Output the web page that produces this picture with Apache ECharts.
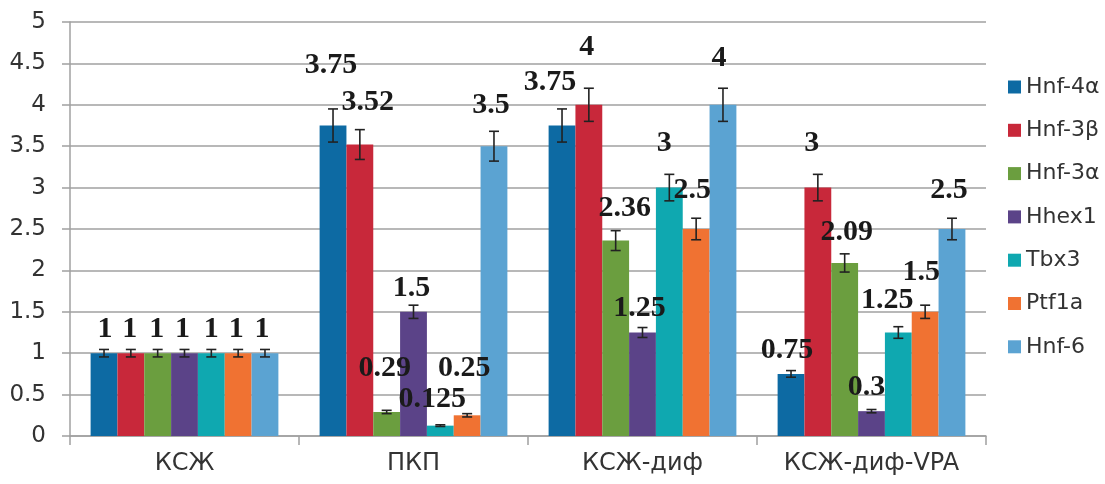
<!DOCTYPE html>
<html>
<head>
<meta charset="utf-8">
<script src="https://cdn.jsdelivr.net/npm/echarts@6/dist/echarts.min.js"></script>
<style>
html,body{margin:0;padding:0;background:#fff;}
#chart{width:1105px;height:484px;}
</style>
</head>
<body>
<div id="chart"></div>
<script>
// ---- data ----
const categories = ['КСЖ', 'ПКП', 'КСЖ-диф', 'КСЖ-диф-VPA'];
const seriesNames = ['Hnf-4α', 'Hnf-3β', 'Hnf-3α', 'Hhex1', 'Tbx3', 'Ptf1a', 'Hnf-6'];
const hnf4a = [1, 3.75, 3.75, 0.75];
const hnf3b = [1, 3.52, 4, 3];
const hnf3a = [1, 0.29, 2.36, 2.09];
const hhex1 = [1, 1.5, 1.25, 0.3];
const tbx3  = [1, 0.125, 3, 1.25];
const ptf1a = [1, 0.25, 2.5, 1.5];
const hnf6  = [1, 3.5, 4, 2.5];
const errHnf4a = [0.045, 0.2, 0.2, 0.04];
const errHnf3b = [0.045, 0.18, 0.2, 0.16];
const errHnf3a = [0.045, 0.02, 0.12, 0.11];
const errHhex1 = [0.045, 0.08, 0.06, 0.02];
const errTbx3  = [0.045, 0.01, 0.16, 0.07];
const errPtf1a = [0.045, 0.02, 0.13, 0.08];
const errHnf6  = [0.045, 0.18, 0.2, 0.13];
const yTickLabels = ['0', '0.5', '1', '1.5', '2', '2.5', '3', '3.5', '4', '4.5', '5'];

// ---- styling ----
const values = [hnf4a, hnf3b, hnf3a, hhex1, tbx3, ptf1a, hnf6];
const errors = [errHnf4a, errHnf3b, errHnf3a, errHhex1, errTbx3, errPtf1a, errHnf6];
const colors = ['#0d6aa3', '#c8283a', '#6b9e3f', '#5b4388', '#0fa8b0', '#f07232', '#5ba3d2'];
// label nudges [dx, dy] in px per series per category (mimics the manual label placement)
const labelNudge = [
  [[1, -12], [-2, -48], [-12, -31], [-4, -12]],
  [[-1, -12], [8, -30], [-2, -46], [-6, -32]],
  [[-1, -12], [-2, -32], [9, -20], [2, -19]],
  [[-2, -12], [-2, -12], [-3, -12], [-5, -12]],
  [[0, -12], [-8, -14], [-5, -32], [-11, -20]],
  [[-2, -12], [-3, -35], [-4, -27], [-4, -28]],
  [[-3, -12], [-3, -29], [-4, -35], [-3, -27]]
];
const CAT_GAP = 0.18;
const SANS = 'DejaVu Sans';

const series = [];
values.forEach((vals, j) => {
  series.push({
    name: seriesNames[j],
    type: 'bar',
    barGap: '0%',
    barCategoryGap: (CAT_GAP * 100) + '%',
    itemStyle: { color: colors[j] },
    z: 2,
    data: vals.map((v, i) => ({
      value: v,
      label: {
        show: true,
        position: 'top',
        distance: 0,
        offset: labelNudge[j][i],
        fontFamily: 'Liberation Serif',
        fontWeight: 'bold',
        fontSize: 30,
        lineHeight: 24,
        color: '#1a1a1a'
      }
    }))
  });
});
values.forEach((vals, j) => {
  series.push({
    name: seriesNames[j] + ' err',
    type: 'custom',
    z: 5,
    silent: true,
    encode: { x: 0, y: [1, 2] },
    data: vals.map((v, i) => [i, v - errors[j][i], v + errors[j][i]]),
    renderItem: function (params, api) {
      const ci = api.value(0);
      const lo = api.coord([ci, api.value(1)]);
      const hi = api.coord([ci, api.value(2)]);
      const catW = api.size([1, 0])[0];
      const bw = catW * (1 - CAT_GAP) / 7;
      const x = lo[0] + (j - 3) * bw;
      const cap = 5;
      const st = { stroke: '#222', lineWidth: 1.6 };
      return {
        type: 'group',
        children: [
          { type: 'line', shape: { x1: x, y1: lo[1], x2: x, y2: hi[1] }, style: st },
          { type: 'line', shape: { x1: x - cap, y1: lo[1], x2: x + cap, y2: lo[1] }, style: st },
          { type: 'line', shape: { x1: x - cap, y1: hi[1], x2: x + cap, y2: hi[1] }, style: st }
        ]
      };
    }
  });
});

const chart = echarts.init(document.getElementById('chart'), null, { renderer: 'canvas' });
chart.setOption({
  animation: false,
  backgroundColor: '#ffffff',
  grid: { left: 70, right: 119, top: 22, bottom: 48, containLabel: false },
  legend: {
    data: seriesNames,
    orient: 'vertical',
    left: 1003,
    top: 71,
    icon: 'rect',
    itemWidth: 13,
    itemHeight: 13,
    itemGap: 21.3,
    textStyle: { fontFamily: SANS, fontSize: 22, lineHeight: 22, color: '#333' }
  },
  xAxis: {
    type: 'category',
    data: categories,
    axisLine: { lineStyle: { color: '#a0a0a0', width: 1.5 } },
    axisTick: { show: true, length: 9, lineStyle: { color: '#a0a0a0', width: 1.5 } },
    axisLabel: { fontFamily: SANS, fontSize: 24, color: '#333', margin: 16 },
    splitLine: { show: false }
  },
  yAxis: {
    type: 'value',
    min: 0,
    max: 5,
    interval: 0.5,
    axisLine: { show: true, lineStyle: { color: '#a0a0a0', width: 1.5 } },
    axisTick: { show: true, length: 8, lineStyle: { color: '#a0a0a0', width: 1.5 } },
    axisLabel: {
      fontFamily: SANS, fontSize: 23, color: '#333', margin: 24,
      formatter: function (v) { return yTickLabels[Math.round(v / 0.5)]; }
    },
    splitLine: { show: true, lineStyle: { color: '#a0a0a0', width: 1.5 } }
  },
  series: series
});
</script>
</body>
</html>
